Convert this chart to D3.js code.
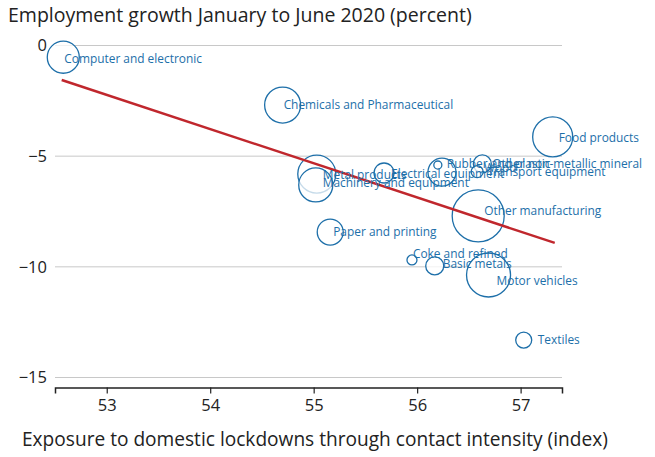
<!DOCTYPE html>
<html><head><meta charset="utf-8">
<script src="https://cdn.jsdelivr.net/npm/d3@7"></script>
<style>body{margin:0;background:#fff}svg{display:block}</style>
</head><body>
<svg id="c" width="655" height="457"></svg>
<script>
const sectors = ["Computer and electronic","Chemicals and Pharmaceutical","Food products","Metal products","Machinery and equipment","Electrical equipment","Rubber and plastic","Wood","Other non-metallic mineral","Transport equipment","Other manufacturing","Paper and printing","Coke and refined","Basic metals","Motor vehicles","Textiles"];
const exposure = [52.58,54.70,57.31,55.03,55.02,55.68,56.20,56.24,56.63,56.58,56.59,55.16,55.95,56.17,56.69,57.03];
const growth = [-0.53,-2.69,-4.13,-5.81,-6.30,-5.76,-5.40,-5.72,-5.35,-5.70,-7.70,-8.43,-9.69,-9.96,-10.37,-13.31];
const weight = [37.9,47.9,59.2,53.4,42.8,14.8,2.4,29,12,5.3,100,25,3.7,12,71.6,9.5];
const trendX = [52.565,57.33];
const trendY = [-1.56,-8.92];
const xTicks = [53,54,55,56,57];
const yTicks = [0,-5,-10,-15];
const yTickLabels = ["0","\u22125","\u221210","\u221215"];

// label placement (layout only)
const labelOff = {
 "Computer and electronic":[1,2],"Chemicals and Pharmaceutical":[1,0],"Food products":[6,1],
 "Metal products":[6,1],"Machinery and equipment":[7,-2],"Electrical equipment":[7,1],
 "Rubber and plastic":[9,-1],"Wood":[42,-4],"Other non-metallic mineral":[10,0],
 "Transport equipment":[10,0],"Other manufacturing":[6,-5],"Paper and printing":[3,0],
 "Coke and refined":[1,-6],"Basic metals":[8,-2],"Motor vehicles":[8,6],"Textiles":[14,0]};

const svg = d3.select("#c");
const font = "'Open Sans', sans-serif";
const x = d3.scaleLinear().domain([52.5,57.4]).range([55,562]);
const y = d3.scaleLinear().domain([0,-15]).range([45.5,377.5]);
const r = d3.scaleSqrt().domain([0,100]).range([0,26]);
const blue = "#1d6fa9";

function fitWidth(sel, w){
  const n = sel.node(); const fs = parseFloat(sel.attr("font-size"));
  const cur = n.getComputedTextLength();
  if (cur>0) sel.attr("font-size", fs*w/cur);
}

svg.append("g").selectAll("line").data(yTicks).join("line")
 .attr("x1",55).attr("x2",562).attr("y1",d=>y(d)).attr("y2",d=>y(d))
 .attr("stroke","#c8c8c8").attr("stroke-width",1);
svg.append("g").selectAll("text").data(yTicks).join("text")
 .attr("x",47).attr("y",d=>y(d)).attr("dy","0.35em").attr("text-anchor","end")
 .attr("font-family",font).attr("font-size",16.5).attr("fill","#222")
 .text((d,i)=>yTickLabels[i]);

const xAxis = svg.append("g").attr("transform","translate(0,387.5)")
 .call(d3.axisBottom(x).tickValues(xTicks).tickSize(6).tickPadding(6).tickFormat(d3.format("d")));
xAxis.select(".domain").attr("stroke","#222").attr("stroke-width",1.5);
xAxis.selectAll(".tick line").attr("stroke","#222").attr("stroke-width",1.2);
xAxis.selectAll(".tick text").attr("font-family",font).attr("font-size",16.5).attr("fill","#222");

const pts = sectors.map((s,i)=>({s,x:exposure[i],y:growth[i],w:weight[i]}));
const sorted = pts.slice().sort((a,b)=>b.w-a.w);
svg.append("g").selectAll("circle").data(sorted).join("circle")
 .attr("cx",d=>x(d.x)).attr("cy",d=>y(d.y)).attr("r",d=>r(d.w))
 .attr("fill","#fff").attr("fill-opacity",0.75)
 .attr("stroke",blue).attr("stroke-width",1.3);

svg.append("line")
 .attr("x1",x(trendX[0])).attr("y1",y(trendY[0])).attr("x2",x(trendX[1])).attr("y2",y(trendY[1]))
 .attr("stroke","#c0272d").attr("stroke-width",2.5);

svg.append("g").selectAll("text").data(pts).join("text")
 .attr("x",d=>x(d.x)+labelOff[d.s][0]).attr("y",d=>y(d.y)+labelOff[d.s][1]).attr("dy","0.35em")
 .attr("font-family",font).attr("font-size",11.9).attr("fill",blue).text(d=>d.s);

const t1 = svg.append("text").attr("x",8).attr("y",22).attr("font-family",font).attr("font-size",17)
 .attr("fill","#222").text("Employment growth January to June 2020 (percent)");
fitWidth(t1, 464);
const t2 = svg.append("text").attr("x",22).attr("y",446).attr("font-family",font).attr("font-size",17)
 .attr("fill","#222").text("Exposure to domestic lockdowns through contact intensity (index)");
fitWidth(t2, 586);
</script>
</body></html>
